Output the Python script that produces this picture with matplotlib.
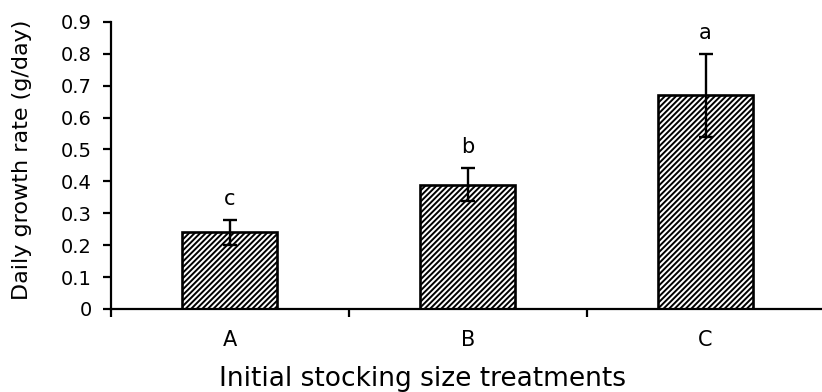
import matplotlib
matplotlib.use("Agg")
import matplotlib.pyplot as plt
import numpy as np

categories = ["A", "B", "C"]
values = [0.24, 0.39, 0.67]
errors = [0.04, 0.053, 0.13]
letters = ["c", "b", "a"]

plt.rcParams['hatch.linewidth'] = 1.4
fig = plt.figure(figsize=(8.22, 3.92), dpi=100)
ax = fig.add_axes([0.135, 0.212, 0.868, 0.732])

x = np.arange(len(categories))
ax.bar(x, values, width=0.4, facecolor="white", edgecolor="black",
       linewidth=1.9, hatch="//////", zorder=2)
ax.errorbar(x, values, yerr=errors, fmt="none", ecolor="black",
            elinewidth=1.7, capsize=5, capthick=1.7, zorder=3)
for xi, v, e, l in zip(x, values, errors, letters):
    ax.text(xi, v + e + 0.045, l, ha="center", va="baseline", fontsize=15)

ax.set_xlim(-0.5, 2.5)
ax.set_ylim(0, 0.9)
ax.set_yticks(np.arange(0, 0.91, 0.1))
ax.set_yticklabels(["0"] + [f"{t:.1f}" for t in np.arange(0.1, 0.91, 0.1)])
ax.set_xticks(x)
ax.set_xticklabels(categories)
ax.set_xticks([-0.5, 0.5, 1.5, 2.5], minor=True)
ax.tick_params(axis="x", which="major", length=0, pad=15, labelsize=15)
ax.tick_params(axis="x", which="minor", length=6, width=1.6, direction="out")
ax.tick_params(axis="y", length=6, width=1.6, direction="out", labelsize=14, pad=8)
for s in ["top", "right"]:
    ax.spines[s].set_visible(False)
for s in ["left", "bottom"]:
    ax.spines[s].set_linewidth(1.6)

ax.set_xlabel("Initial stocking size treatments", fontsize=19)
ax.set_ylabel("Daily growth rate (g/day)", fontsize=16)
ax.xaxis.set_label_coords(0.437, -0.2)
ax.yaxis.set_label_coords(-0.11, 0.52)

fig.savefig("out.png", dpi=100)
